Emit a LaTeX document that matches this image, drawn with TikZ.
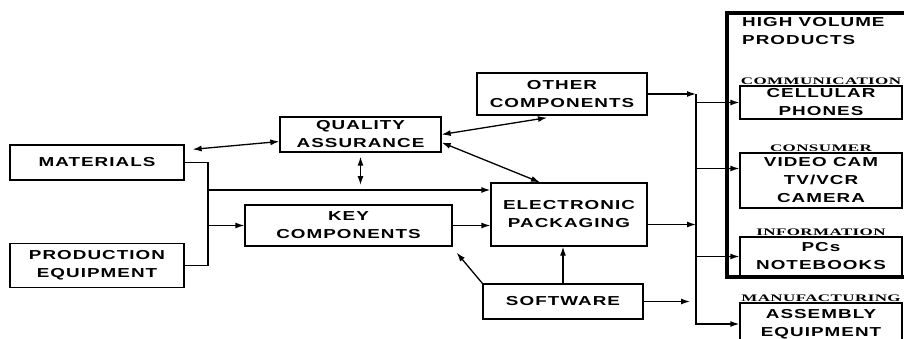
\documentclass[tikz,border=0pt]{standalone}
\usepackage{fontspec}
\usepackage{tikz}
\usetikzlibrary{arrows.meta, positioning, calc}
\newfontfamily\boxfont{Liberation Sans}[FakeStretch=1.45, LetterSpace=8]
\newfontfamily\catfont{Liberation Serif}[FakeStretch=1.7, LetterSpace=4]

\begin{document}
\begin{tikzpicture}[
    x=1pt, y=1pt,
    %% block styles
    blk/.style={
        draw, line width=1.3pt, align=center, inner sep=1pt,
        font=\boxfont\bfseries\fontsize{13}{18}\selectfont
    },
    prodbox/.style={blk, minimum width=162pt},
    head/.style={align=left, inner sep=0pt,
        font=\boxfont\bfseries\fontsize{13}{18}\selectfont},
    cat/.style={inner sep=1pt,
        font=\catfont\bfseries\fontsize{10}{10}\selectfont},
    %% arrow styles
    wire/.style={line width=1.3pt},
    flow/.style={-{Latex[length=9pt, width=6pt]}, line width=1.3pt},
    bidir/.style={{Latex[length=9pt, width=6pt]}-{Latex[length=9pt, width=6pt]}, line width=1.3pt},
    frame/.style={line width=4pt}
]
    \useasboundingbox (0,0) rectangle (904,-338);

    %% --- inputs -----------------------------------------------
    \node[blk, minimum width=174pt, minimum height=35pt] (mat) at (97,-162.5) {MATERIALS};
    \node[blk, minimum width=174pt, minimum height=44pt] (prod) [below=62pt of mat] {PRODUCTION\\EQUIPMENT};

    %% --- middle blocks ----------------------------------------
    \node[blk, minimum width=161pt, minimum height=35pt] (qa) at (360.5,-134.5) {QUALITY\\ASSURANCE};
    \node[blk, minimum width=207pt, minimum height=41pt] (key) at (348.5,-225.5) {KEY\\COMPONENTS};
    \node[blk, minimum width=170pt, minimum height=42pt] (other) at (562,-94) {OTHER\\COMPONENTS};
    \node[blk, minimum width=156pt, minimum height=63pt] (ep) at (569,-214.5) {ELECTRONIC\\PACKAGING};
    \node[blk, minimum width=160pt, minimum height=35pt] (soft) at (563,-301.5) {SOFTWARE};

    %% --- products ---------------------------------------------
    \node[head, anchor=north west] (hvp) at (742,-17) {HIGH VOLUME\\PRODUCTS};
    \node[prodbox, minimum height=33pt] (cell) at (821,-102.5) {CELLULAR\\PHONES};
    \node[prodbox, minimum height=55pt] (video) at (821,-180.5) {VIDEO CAM\\TV/VCR\\CAMERA};
    \node[prodbox, minimum height=39pt] (pcs) at (821,-256.5) {PCs\\NOTEBOOKS};
    \node[prodbox, minimum height=42pt] (asm) at (821,-324) {ASSEMBLY\\EQUIPMENT};

    \node[cat, above=0pt of cell]  (comm) {COMMUNICATION};
    \node[cat, above=0pt of video] (cons) {CONSUMER};
    \node[cat, above=0pt of pcs]   (info) {INFORMATION};
    \node[cat, above=0pt of asm]   (manu) {MANUFACTURING};

    \draw[frame] (910,-13) -- (727,-13) -- (727,-277) -- (910,-277);

    %% --- bus points -------------------------------------------
    \coordinate (mbus)  at (208,-162.5);
    \coordinate (mline) at (208,-190);
    \coordinate (pbus)  at (696,-94);

    %% --- inputs to the middle ---------------------------------
    \draw[wire] (mat.east) -| (mbus |- prod.east) -- (prod.east);
    \draw[flow] (mline) -- (mline -| ep.west);
    \draw[flow] (mbus |- key.west) -- (key.west);
    \draw[bidir] ($(mat.north east)+(8,-5)$) -- ($(qa.west)+(0,-7)$);
    \draw[bidir] ($(qa.south)+(0,-4)$) -- ($(qa.south |- mline)+(0,5)$);

    %% --- middle links -----------------------------------------
    \draw[flow] (key.east) -- (key.east -| ep.west);
    \draw[flow] (soft.north) -- (soft.north |- ep.south);
    \draw[flow] (soft.north west) -- ($(key.south east)+(4,-6)$);
    \draw[bidir] (qa.east) -- ($(other.south)+(-15,-2)$);
    \draw[bidir] ($(qa.east)+(0,-8)$) -- ($(ep.north)+(-29,0)$);

    %% --- out to the products ----------------------------------
    \draw[flow] (other.east) -- (pbus);
    \draw[flow] (pbus) |- (asm.west);
    \draw[flow] ($(ep.east)+(0,-10)$) -- ($(ep.east -| pbus)+(0,-10)$);
    \draw[flow] (soft.east) -- ($(soft.east -| pbus)+(-6,0)$);
    \draw[flow] (pbus |- cell.west) -- (cell.west);
    \draw[flow] ($(pbus |- video.west)+(0,12)$) -- ($(video.west)+(0,12)$);
    \draw[flow] (pbus |- pcs.west) -- (pcs.west);

\end{tikzpicture}
\end{document}
